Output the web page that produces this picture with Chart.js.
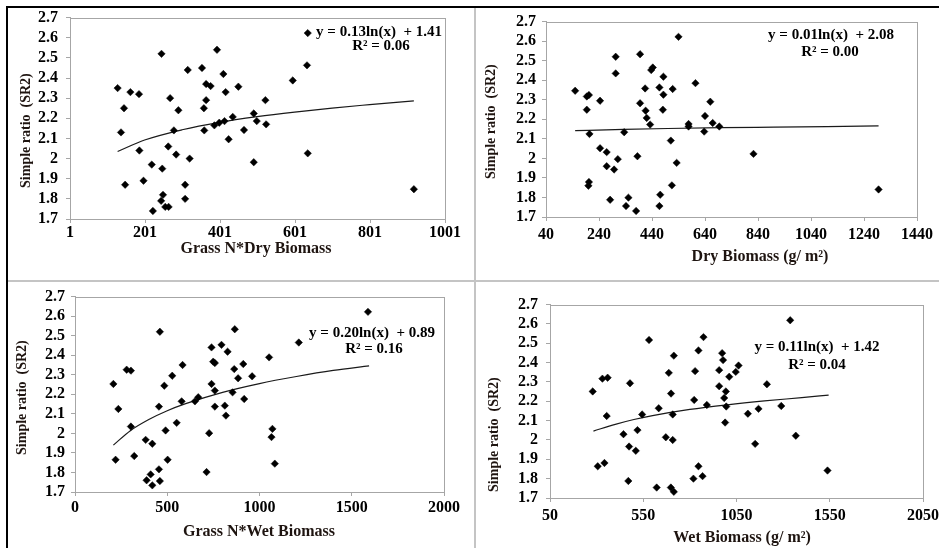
<!DOCTYPE html>
<html>
<head>
<meta charset="utf-8">
<script src="https://cdn.jsdelivr.net/npm/chart.js@4.4.1/dist/chart.umd.min.js"></script>
<style>
  body { margin: 0; background: #fff; width: 939px; height: 548px; position: relative; overflow: hidden; }
  canvas { position: absolute; }
  .bar { position: absolute; z-index: 5; }
</style>
</head>
<body>
<canvas id="c1"></canvas>
<canvas id="c2"></canvas>
<canvas id="c3"></canvas>
<canvas id="c4"></canvas>
<div class="bar" style="left:6px;top:6px;width:2px;height:542px;background:#000"></div>
<div class="bar" style="left:6px;top:6px;width:933px;height:2px;background:#000"></div>
<div class="bar" style="left:474px;top:8px;width:2px;height:540px;background:#c4c4c4"></div>
<div class="bar" style="left:8px;top:280px;width:931px;height:2px;background:#c4c4c4"></div>
<script>
const serif = "'Liberation Serif', 'Times New Roman', serif";

// shared y axis (Simple ratio SR2)
const yTicks = [1.7, 1.8, 1.9, 2, 2.1, 2.2, 2.3, 2.4, 2.5, 2.6, 2.7];

// panel 1 - Grass N*Dry Biomass
const gnDryTicks = [1, 201, 401, 601, 801, 1001];
const gnDryX = [128, 137, 145, 148, 162, 185, 186, 197, 219, 222, 245, 247, 244, 249, 255, 264, 263, 268, 278, 284,
  290, 308, 308, 315, 320, 353, 358, 359, 364, 364, 376, 393, 386, 399, 410, 413, 416, 424, 435, 450,
  465, 491, 499, 491, 522, 524, 595, 633, 635, 635, 918];
const gnDryY = [2.35, 2.13, 2.25, 1.87, 2.33, 2.32, 2.04, 1.89, 1.97, 1.74, 2.52, 1.95, 1.79, 1.82, 1.76, 1.76, 2.06, 2.30, 2.14, 2.02,
  2.24, 1.87, 1.80, 2.44, 2.00, 2.45, 2.25, 2.14, 2.29, 2.37, 2.36, 2.54, 2.165, 2.178, 2.42, 2.186, 2.33, 2.096, 2.207, 2.357,
  2.142, 2.224, 2.186, 1.982, 2.29, 2.17, 2.388, 2.463, 2.623, 2.026, 1.848];
const gnDryFitX = [128, 200, 300, 400, 500, 600, 700, 800, 918];
const gnDryFitY = [2.035, 2.092, 2.143, 2.18, 2.208, 2.231, 2.251, 2.268, 2.287];

// panel 2 - Dry Biomass (g/m2)
const dryTicks = [40, 240, 440, 640, 840, 1040, 1240, 1440];
const dryX = [150, 194, 202, 194, 204, 202, 200, 244, 244, 269, 269, 282, 303, 303, 297, 311, 335, 342, 351, 380,
  385, 395, 395, 414, 416, 420, 433, 437, 443, 468, 471, 468, 483, 483, 481, 511, 515, 518, 533, 540,
  578, 578, 604, 640, 637, 660, 669, 694, 823, 1295];
const dryY = [2.346, 2.317, 2.324, 2.249, 2.125, 1.879, 1.86, 2.295, 2.052, 2.032, 1.96, 1.788, 2.52, 2.435, 1.943, 1.996, 2.134, 1.756, 1.799, 1.731,
  2.011, 2.533, 2.282, 2.358, 2.244, 2.207, 2.173, 2.452, 2.465, 2.363, 1.814, 1.756, 2.418, 2.326, 2.249, 2.091, 1.862, 2.355, 1.977, 2.622,
  2.176, 2.163, 2.385, 2.217, 2.137, 2.29, 2.181, 2.163, 2.023, 1.841];
const dryFitX = [150, 300, 500, 700, 900, 1100, 1295];
const dryFitY = [2.142, 2.147, 2.153, 2.157, 2.16, 2.163, 2.166];

// panel 3 - Grass N*Wet Biomass
const gnWetTicks = [0, 500, 1000, 1500, 2000];
const gnWetX = [208, 220, 235, 280, 303, 303, 321, 383, 388, 410, 419, 419, 455, 460, 455, 460, 484, 491, 502, 527,
  551, 578, 583, 650, 668, 713, 727, 740, 740, 749, 758, 758, 758, 794, 812, 818, 827, 854, 866, 863,
  884, 912, 917, 960, 1052, 1065, 1070, 1083, 1213, 1588];
const gnWetY = [2.253, 1.865, 2.125, 2.326, 2.321, 2.035, 1.884, 1.967, 1.76, 1.79, 1.734, 1.947, 2.137, 2.52, 1.816, 1.756, 2.244, 2.015, 1.865, 2.295,
  2.054, 2.164, 2.35, 2.164, 2.185, 1.802, 2.001, 2.44, 2.253, 2.367, 2.36, 2.219, 2.137, 2.453, 2.142, 2.091, 2.418, 2.21, 2.533, 2.329,
  2.282, 2.355, 2.176, 2.292, 2.389, 1.981, 2.023, 1.845, 2.465, 2.622];
const gnWetFitX = [208, 300, 400, 500, 600, 800, 1000, 1200, 1400, 1594];
const gnWetFitY = [1.94, 2.014, 2.071, 2.116, 2.152, 2.21, 2.255, 2.291, 2.322, 2.345];

// panel 4 - Wet Biomass (g/m2)
const wetTicks = [50, 550, 1050, 1550, 2050];
const wetX = [279, 306, 342, 331, 359, 354, 479, 444, 470, 474, 510, 519, 544, 581, 622, 633, 671, 687, 699, 708,
  708, 698, 714, 714, 823, 819, 828, 846, 846, 868, 873, 891, 957, 957, 973, 978, 993, 984, 995, 989,
  1011, 1046, 1061, 1338, 1213, 1111, 1168, 1290, 1150, 1368, 1538];
const wetY = [2.251, 1.864, 1.881, 2.317, 2.322, 2.124, 2.293, 2.03, 1.788, 1.966, 1.944, 2.051, 2.132, 2.517, 1.754, 2.164, 2.014, 2.347, 2.24, 2.132,
  2.0, 1.754, 1.732, 2.436, 2.207, 1.8, 2.356, 2.463, 1.864, 1.813, 2.532, 2.181, 2.361, 2.278, 2.449, 2.413, 2.251, 2.217, 2.173, 2.09,
  2.327, 2.352, 2.385, 2.619, 2.288, 2.136, 2.161, 2.176, 1.98, 2.022, 1.842];
const wetFitX = [283, 400, 500, 600, 800, 1000, 1200, 1400, 1544];
const wetFitY = [2.046, 2.081, 2.106, 2.126, 2.158, 2.182, 2.202, 2.219, 2.232];

// draws plot frame, trend equation and axis titles
const panelText = {
  id: 'panelText',
  beforeDatasetsDraw(chart) {
    const { ctx, chartArea: a } = chart;
    ctx.save();
    ctx.strokeStyle = '#a6a6a6';
    ctx.lineWidth = 1;
    ctx.strokeRect(Math.round(a.left) + 0.5, Math.round(a.top) + 0.5, Math.round(a.width), Math.round(a.height));
    ctx.restore();
  },
  afterDraw(chart, args, o) {
    const { ctx, chartArea: a } = chart;
    ctx.save();
    ctx.fillStyle = '#000';
    ctx.textAlign = 'center';
    ctx.textBaseline = 'middle';
    ctx.font = 'bold 15px ' + serif;
    o.eq.forEach((line, i) => ctx.fillText(line, a.left + o.eqPos[i][0], a.top + o.eqPos[i][1]));
    ctx.fillStyle = '#1e1410';
    ctx.font = 'bold 16px ' + serif;
    ctx.fillText(o.xTitle, a.left + o.xPos[0], a.bottom + o.xPos[1]);
    ctx.translate(a.left + o.yPos[0], a.top + o.yPos[1]);
    ctx.rotate(-Math.PI / 2);
    ctx.font = 'bold 14px ' + serif;
    ctx.fillText(o.yTitle, 0, 0);
    ctx.restore();
  }
};

function makePanel(id, box, xs, ys, fitX, fitY, xTicks, text, pad) {
  const canvas = document.getElementById(id);
  const w = box.R - box.L + 100;
  const h = box.B - box.T + 75;
  canvas.width = w;
  canvas.height = h;
  canvas.style.left = (box.L - 70) + 'px';
  canvas.style.top = (box.T - 15) + 'px';
  canvas.style.width = w + 'px';
  canvas.style.height = h + 'px';

  const tickFont = { family: serif, size: 16, weight: 'bold' };

  return new Chart(canvas, {
    type: 'scatter',
    data: {
      datasets: [{
        data: xs.map((x, i) => ({ x: x, y: ys[i] })),
        pointStyle: 'rectRot',
        pointRadius: 3.7,
        backgroundColor: '#000',
        borderColor: '#000',
        borderWidth: 0.5,
        clip: false
      }, {
        data: fitX.map((x, i) => ({ x: x, y: fitY[i] })),
        showLine: true,
        pointRadius: 0,
        borderColor: '#1a1a1a',
        borderWidth: 1.2,
        cubicInterpolationMode: 'monotone'
      }]
    },
    options: {
      responsive: false,
      animation: false,
      events: [],
      layout: { padding: { left: 0, top: 15, right: 30, bottom: 0 } },
      plugins: { legend: { display: false }, tooltip: { enabled: false }, panelText: text },
      scales: {
        x: {
          type: 'linear',
          min: xTicks[0],
          max: xTicks[xTicks.length - 1],
          afterBuildTicks: s => { s.ticks = xTicks.map(v => ({ value: v })); },
          afterFit: s => { s.height = 60; },
          grid: { drawOnChartArea: false, tickLength: 4, color: '#a6a6a6' },
          border: { color: '#a6a6a6' },
          ticks: { padding: pad.x, color: '#000', font: tickFont, maxRotation: 0, autoSkip: false, callback: v => String(v) }
        },
        y: {
          type: 'linear',
          min: yTicks[0],
          max: yTicks[yTicks.length - 1],
          afterBuildTicks: s => { s.ticks = yTicks.map(v => ({ value: v })); },
          afterFit: s => { s.width = 70; },
          grid: { drawOnChartArea: false, tickLength: 4, color: '#a6a6a6' },
          border: { color: '#a6a6a6' },
          ticks: { padding: pad.y, color: '#000', font: tickFont, autoSkip: false, callback: v => String(v) }
        }
      }
    },
    plugins: [panelText]
  });
}

makePanel('c1', { L: 70, T: 15, R: 445, B: 219 }, gnDryX, gnDryY, gnDryFitX, gnDryFitY, gnDryTicks, {
  eq: ['y = 0.13ln(x)  + 1.41', 'R\u00b2 = 0.06'], eqPos: [[309, 15], [311, 29]],
  xTitle: 'Grass N*Dry Biomass', xPos: [186, 30],
  yTitle: 'Simple ratio  (SR2)', yPos: [-44, 113]
}, { x: 0, y: 8 });

makePanel('c2', { L: 546, T: 21, R: 917, B: 217 }, dryX, dryY, dryFitX, dryFitY, dryTicks, {
  eq: ['y = 0.01ln(x)  + 2.08', 'R\u00b2 = 0.00'], eqPos: [[285, 14], [284, 31]],
  xTitle: 'Dry Biomass (g/ m\u00b2)', xPos: [214, 40],
  yTitle: 'Simple ratio  (SR2)', yPos: [-55, 100]
}, { x: 4, y: 6 });

makePanel('c3', { L: 75, T: 296, R: 444, B: 492 }, gnWetX, gnWetY, gnWetFitX, gnWetFitY, gnWetTicks, {
  eq: ['y = 0.20ln(x)  + 0.89', 'R\u00b2 = 0.16'], eqPos: [[297, 37], [299, 53]],
  xTitle: 'Grass N*Wet Biomass', xPos: [184, 40],
  yTitle: 'Simple ratio  (SR2)', yPos: [-53, 101]
}, { x: 2, y: 6 });

makePanel('c4', { L: 550, T: 302, R: 923, B: 498 }, wetX, wetY, wetFitX, wetFitY, wetTicks, {
  eq: ['y = 0.11ln(x)  + 1.42', 'R\u00b2 = 0.04'], eqPos: [[267, 43], [267, 61]],
  xTitle: 'Wet Biomass (g/ m\u00b2)', xPos: [192, 40],
  yTitle: 'Simple ratio  (SR2)', yPos: [-56, 130]
}, { x: 4, y: 8 });
</script>
</body>
</html>
